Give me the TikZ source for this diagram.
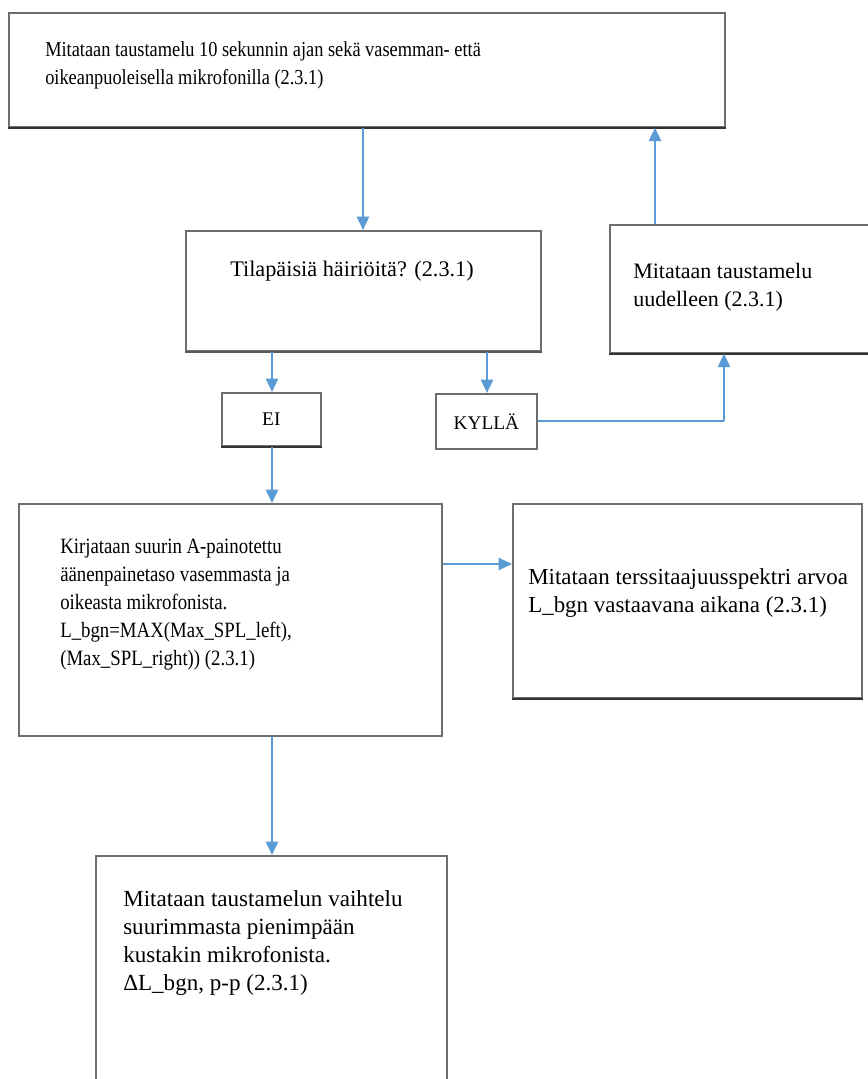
\documentclass[tikz,border=0pt]{standalone}
\usepackage{fontspec}
\setmainfont{Liberation Serif}
\newfontfamily\condfont[FakeStretch=0.86]{Liberation Serif}
\usetikzlibrary{arrows.meta}
\definecolor{arrowblue}{RGB}{91,155,213}
\definecolor{boxgray}{RGB}{110,110,110}
\tikzset{
  box/.style={draw=boxgray, line width=1.3pt, fill=white, inner sep=0pt, anchor=north west},
  shade/.style={draw=black!80, line width=1.8pt},
  txt/.style={inner sep=0pt, anchor=north west, align=left},
  flow/.style={draw=arrowblue, line width=1.8pt, -{Triangle[width=9pt,length=10pt]}},
  thinflow/.style={draw=arrowblue, line width=1.4pt},
}
\begin{document}
\begin{tikzpicture}[x=0.75pt,y=-0.75pt]
\useasboundingbox (0,0) rectangle (868,1079);
\clip (0,0) rectangle (868,1079);
\fill[white] (0,0) rectangle (868,1079);

% boxes
\node[box, minimum width=716*0.75pt, minimum height=114*0.75pt] (top) at (8,12) {};
\node[box, minimum width=355*0.75pt, minimum height=120*0.75pt] (tila) at (185,230) {};
\node[box, minimum width=262*0.75pt, minimum height=128*0.75pt] (uud) at (609,224) {};
\node[box, minimum width=99*0.75pt, minimum height=53*0.75pt] (ei) at (221,392) {};
\node[box, minimum width=101*0.75pt, minimum height=55*0.75pt] (kylla) at (435,393) {};
\node[box, minimum width=423*0.75pt, minimum height=232*0.75pt] (kirj) at (18,503) {};
\node[box, minimum width=349*0.75pt, minimum height=194*0.75pt] (ters) at (512,503) {};
\node[box, minimum width=351*0.75pt, minimum height=260*0.75pt] (mit) at (95,855) {};

% darker bottom edges
\draw[shade] (top.south west) -- (top.south east);
\draw[shade] (uud.south west) -- (uud.south east);
\draw[shade] (ei.south west) -- (ei.south east);
\draw[shade] (ters.south west) -- (ters.south east);
\draw[shade, draw=black!65] (tila.south west) -- (tila.south east);

% texts
\node[txt, font=\condfont\fontsize{16pt}{21pt}\selectfont] (ttop) at (45,41) {Mitataan taustamelu 10 sekunnin ajan sekä vasemman- että\\oikeanpuoleisella mikrofonilla (2.3.1)};
\node[txt, font=\fontsize{16.7pt}{21pt}\selectfont] (ttila) at (230,261) {Tilapäisiä häiriöitä? (2.3.1)};
\node[txt, font=\fontsize{16.5pt}{21pt}\selectfont] (tuud) at (633,263) {Mitataan taustamelu\\uudelleen (2.3.1)};
\node[inner sep=0pt, font=\fontsize{14.5pt}{21pt}\selectfont] (tei) at (ei.center) {EI};
\node[inner sep=0pt, font=\fontsize{14.5pt}{21pt}\selectfont] (tkylla) at (kylla.center) {KYLLÄ};
\node[txt, font=\condfont\fontsize{16.4pt}{21pt}\selectfont] (tkirj) at (60,539) {Kirjataan suurin A-painotettu\\äänenpainetaso vasemmasta ja\\oikeasta mikrofonista.\\L\_bgn=MAX(Max\_SPL\_left),\\(Max\_SPL\_right)) (2.3.1)};
\node[txt, font=\fontsize{17.2pt}{21pt}\selectfont] (tters) at (528,568) {Mitataan terssitaajuusspektri arvoa\\L\_bgn vastaavana aikana (2.3.1)};
\node[txt, font=\fontsize{17.3pt}{21pt}\selectfont] (tmit) at (123,890) {Mitataan taustamelun vaihtelu\\suurimmasta pienimpään\\kustakin mikrofonista.\\ΔL\_bgn, p-p (2.3.1)};

% connectors
\coordinate (corner) at (kylla.east -| 724,0);
\draw[flow] (top.south -| 363,0) -- (tila.north -| 363,0);
\draw[flow] (uud.north -| 655,0) -- (top.south -| 655,0);
\draw[flow] (tila.south -| 272,0) -- (ei.north -| 272,0);
\draw[flow] (tila.south -| 487,0) -- (kylla.north -| 487,0);
\draw[thinflow] (kylla.east) -- (corner);
\draw[flow] (corner) -- (uud.south -| 724,0);
\draw[flow] (ei.south -| 272,0) -- (kirj.north -| 272,0);
\draw[flow] (kirj.east |- 0,564) -- (ters.west |- 0,564);
\draw[flow] (kirj.south -| 272,0) -- (mit.north -| 272,0);
\end{tikzpicture}
\end{document}
